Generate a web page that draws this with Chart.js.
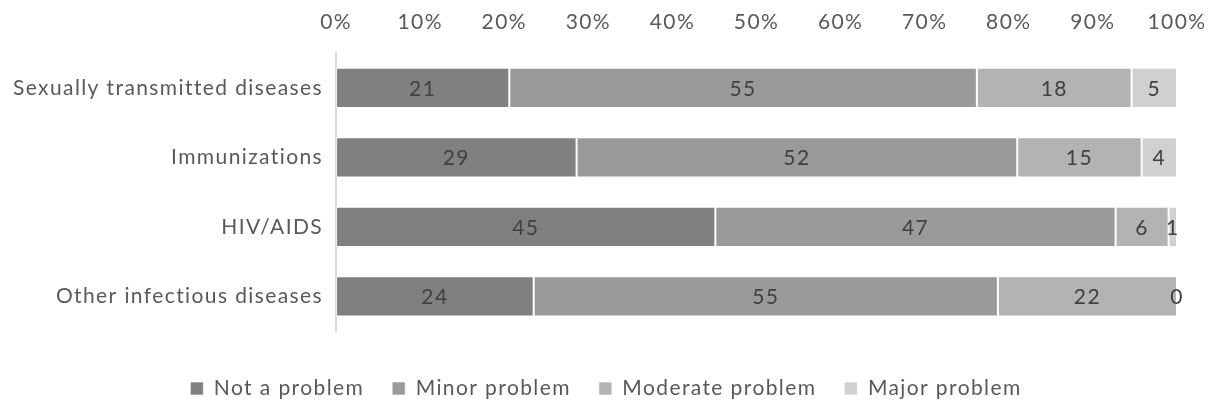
<!DOCTYPE html>
<html>
<head>
<meta charset="utf-8">
<script src="https://cdn.jsdelivr.net/npm/chart.js@4/dist/chart.umd.min.js"></script>
<style>
html,body{margin:0;padding:0;background:#fff;}
#wrap{width:1212px;height:404px;position:relative;}
</style>
</head>
<body>
<div id="wrap"><canvas id="c" width="1212" height="404"></canvas></div>
<script>
const categories = ["Sexually transmitted diseases", "Immunizations", "HIV/AIDS", "Other infectious diseases"];
const seriesNames = ["Not a problem", "Minor problem", "Moderate problem", "Major problem"];
// bar lengths (percent of row)
const notAProblem = [20.6, 28.6, 45.1, 23.5];
const minorProblem = [55.6, 52.4, 47.6, 55.2];
const moderateProblem = [18.4, 14.8, 6.3, 21.3];
const majorProblem = [5.4, 4.2, 1.0, 0];
// printed data labels
const notAProblemLabels = [21, 29, 45, 24];
const minorProblemLabels = [55, 52, 47, 55];
const moderateProblemLabels = [18, 15, 6, 22];
const majorProblemLabels = [5, 4, 1, 0];
const tickValues = [0, 10, 20, 30, 40, 50, 60, 70, 80, 90, 100];
const colors = ["#808080", "#9a9a9a", "#b3b3b3", "#d0d0d0"];

const FONT = "Lato, 'Open Sans', sans-serif";
const SPACING = '1.4px';
const seriesData = [notAProblem, minorProblem, moderateProblem, majorProblem];
const seriesLabels = [notAProblemLabels, minorProblemLabels, moderateProblemLabels, majorProblemLabels];

const canvas = document.getElementById('c');

const spacingPlugin = {
  id: 'spacing',
  afterInit(chart) {
    const lg = chart.legend;
    if (lg && !lg._patched) {
      const origFit = lg.fit;
      lg.fit = function () { origFit.call(this); this.height -= 5; };
      lg._patched = true;
    }
  },
  beforeUpdate(chart) { chart.ctx.letterSpacing = SPACING; },
  beforeDraw(chart) { chart.ctx.letterSpacing = SPACING; }
};

const labelPlugin = {
  id: 'barLabels',
  afterDatasetsDraw(chart) {
    const ctx = chart.ctx;
    ctx.save();
    ctx.font = "21px " + FONT;
    ctx.fillStyle = "#404040";
    ctx.textAlign = "center";
    ctx.textBaseline = "middle";
    chart.data.datasets.forEach((ds, di) => {
      const meta = chart.getDatasetMeta(di);
      meta.data.forEach((bar, i) => {
        const cx = (bar.x + bar.base) / 2;
        ctx.fillText(String(seriesLabels[di][i]), cx, bar.y + 1);
      });
    });
    ctx.restore();
  }
};

new Chart(canvas, {
  type: 'bar',
  data: {
    labels: categories,
    datasets: seriesNames.map((n, i) => ({
      label: n,
      data: seriesData[i],
      backgroundColor: colors[i],
      borderColor: 'rgba(255,255,255,0.6)',
      borderWidth: 1,
      borderSkipped: false,
      barPercentage: 0.578,
      categoryPercentage: 1.0
    }))
  },
  options: {
    indexAxis: 'y',
    responsive: false,
    animation: false,
    devicePixelRatio: 1,
    layout: { padding: { left: 0, right: 0, top: 0, bottom: 0 } },
    plugins: {
      tooltip: { enabled: false },
      legend: {
        position: 'bottom',
        title: { display: true, text: ' ', font: { size: 4 }, padding: { top: 0, bottom: 14 } },
        labels: {
          boxWidth: 13,
          boxHeight: 13,
          padding: 28,
          color: '#595959',
          font: { family: FONT, size: 21 }
        }
      }
    },
    scales: {
      x: {
        position: 'top',
        stacked: true,
        min: 0,
        max: 100,
        afterBuildTicks(scale) { scale.ticks = tickValues.map(v => ({ value: v })); },
        afterFit(scale) { scale.paddingRight = 35; scale.paddingLeft = 0; },
        grid: { display: false },
        border: { display: false },
        ticks: {
          color: '#595959',
          font: { family: FONT, size: 21 },
          padding: 10,
          callback: v => v + '%'
        }
      },
      y: {
        stacked: true,
        grid: { display: false, drawTicks: false },
        border: { display: true, color: '#d9d9d9', width: 2 },
        ticks: {
          color: '#595959',
          font: { family: FONT, size: 21 },
          padding: 13
        }
      }
    }
  },
  plugins: [spacingPlugin, labelPlugin]
});
</script>
</body>
</html>
